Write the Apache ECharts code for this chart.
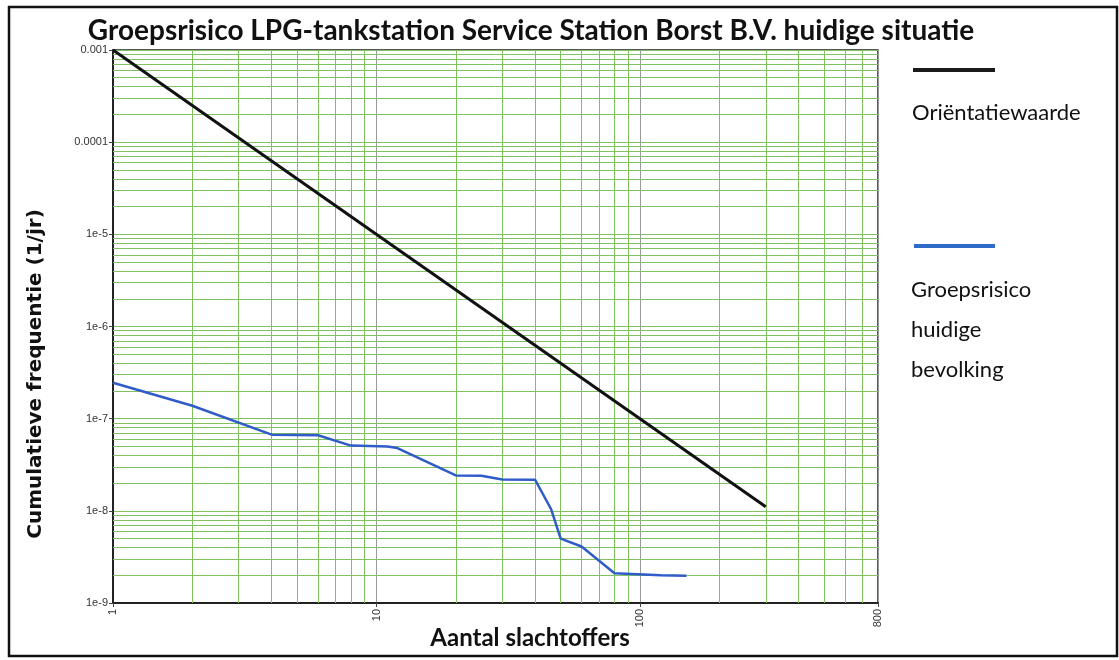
<!DOCTYPE html>
<html>
<head>
<meta charset="utf-8">
<script src="https://cdn.jsdelivr.net/npm/echarts@6/dist/echarts.min.js"></script>
<style>
  html, body { margin: 0; padding: 0; background: #fff; }
  #chart { width: 1119px; height: 660px; }
</style>
</head>
<body>
<div id="chart"></div>
<script>
// aantal slachtoffers (N) en cumulatieve frequentie (1/jr)
var orientatieN = [1, 300];
var orientatieF = [1e-3, 1.11e-8];

var groepsN = [1, 2, 4, 6, 8, 11, 12, 20, 25, 30, 40, 46, 50, 60, 80, 120, 150];
var groepsF = [2.45e-7, 1.38e-7, 6.7e-8, 6.6e-8, 5.1e-8, 5.0e-8, 4.8e-8, 2.42e-8, 2.4e-8,
               2.19e-8, 2.17e-8, 1.04e-8, 5.0e-9, 4.1e-9, 2.1e-9, 2.0e-9, 1.98e-9];

var xMin = 1, xMax = 800;
var yMin = 1e-9, yMax = 1e-3;

// tussenliggende rasterlijnen (2..9 per decade)
var xGrid = [];
[1, 10, 100].forEach(function (d) {
    for (var k = 2; k <= 9; k++) if (d * k < xMax) xGrid.push(d * k);
});
var yGrid = [];
[1e-9, 1e-8, 1e-7, 1e-6, 1e-5, 1e-4].forEach(function (d) {
    for (var k = 2; k <= 9; k++) yGrid.push(d * k);
});

var green = '#7fc25f';

function pairs(xs, ys) {
    return xs.map(function (x, i) { return [x, ys[i]]; });
}

function gridSeries(lines) {
    return {
        type: 'line', data: [], z: 1, silent: true, color: green,
        markLine: {
            silent: true, symbol: 'none', animation: false,
            label: { show: false },
            lineStyle: { color: green, width: 1, type: 'solid', opacity: 1 },
            emphasis: { disabled: true },
            data: lines
        }
    };
}

var myChart = echarts.init(document.getElementById('chart'));
var option = {
    backgroundColor: '#fff',
    animation: false,
    grid: {
        left: 113, top: 50, right: 1119 - 878, bottom: 660 - 603,
        show: true, borderColor: '#222', borderWidth: 1.5
    },
    xAxis: {
        type: 'log', logBase: 10, min: xMin, max: xMax,
        axisLine: { lineStyle: { color: '#222', width: 2 } },
        axisTick: { show: true, length: 4, lineStyle: { color: '#444' } },
        axisLabel: {
            rotate: 90, fontFamily: 'Liberation Sans', fontSize: 11, color: '#333', margin: 6,
            formatter: function (v) { return String(Math.round(v)); }
        },
        splitLine: { show: true, lineStyle: { color: '#9a9a9a', width: 1 } }
    },
    yAxis: {
        type: 'log', logBase: 10, min: yMin, max: yMax,
        axisLine: { lineStyle: { color: '#222', width: 2 } },
        axisTick: { show: true, length: 4, lineStyle: { color: '#444' } },
        axisLabel: {
            fontFamily: 'Liberation Sans', fontSize: 11, color: '#333', margin: 5,
            formatter: function (v) {
                var e = Math.round(Math.log10(v));
                if (e === -3) return '0.001';
                if (e === -4) return '0.0001';
                return '1e' + e;
            }
        },
        splitLine: { show: true, lineStyle: { color: green, width: 1 } }
    },
    series: [
        gridSeries(xGrid.map(function (v) {
            return [{ coord: [v, yMin], lineStyle: { color: green } }, { coord: [v, yMax] }];
        })),
        gridSeries(yGrid.map(function (v) {
            return [{ coord: [xMin, v], lineStyle: { color: green } }, { coord: [xMax, v] }];
        })),
        {
            name: 'Oriëntatiewaarde', type: 'line', z: 5,
            data: pairs(orientatieN, orientatieF),
            showSymbol: false, symbol: 'none',
            lineStyle: { color: '#111', width: 3 }
        },
        {
            name: 'Groepsrisico huidige bevolking', type: 'line', z: 6,
            data: pairs(groepsN, groepsF),
            showSymbol: false, symbol: 'none',
            lineStyle: { color: '#2f5cc8', width: 2.5 }
        }
    ],
    graphic: [
        {
            type: 'rect', shape: { x: 9, y: 7, width: 1108, height: 649 },
            style: { fill: 'none', stroke: '#111', lineWidth: 2.5 }, z: 100
        },
        {
            type: 'text', x: 531, y: 31,
            style: {
                text: 'Groepsrisico LPG-tankstation Service Station Borst B.V. huidige situatie',
                font: 'bold 28px Lato', fill: '#111', align: 'center', verticalAlign: 'middle'
            }
        },
        {
            type: 'text', x: 530, y: 638,
            style: {
                text: 'Aantal slachtoffers', font: 'bold 24px Lato', fill: '#111',
                align: 'center', verticalAlign: 'middle'
            }
        },
        {
            type: 'text', x: 36, y: 374, rotation: Math.PI / 2,
            style: {
                text: 'Cumulatieve frequentie (1/jr)', font: 'bold 20px "DejaVu Sans"', fill: '#111',
                align: 'center', verticalAlign: 'middle'
            }
        },
        {
            type: 'line', shape: { x1: 913, y1: 70, x2: 995, y2: 70 },
            style: { stroke: '#1a1a1a', lineWidth: 4 }
        },
        {
            type: 'text', x: 912, y: 113,
            style: { text: 'Oriëntatiewaarde', font: '22px Lato', fill: '#111', verticalAlign: 'middle' }
        },
        {
            type: 'line', shape: { x1: 914, y1: 246, x2: 995, y2: 246 },
            style: { stroke: '#2e6ac8', lineWidth: 4 }
        },
        {
            type: 'text', x: 911, y: 290,
            style: { text: 'Groepsrisico', font: '22px Lato', fill: '#111', verticalAlign: 'middle' }
        },
        {
            type: 'text', x: 911, y: 330,
            style: { text: 'huidige', font: '22px Lato', fill: '#111', verticalAlign: 'middle' }
        },
        {
            type: 'text', x: 911, y: 370,
            style: { text: 'bevolking', font: '22px Lato', fill: '#111', verticalAlign: 'middle' }
        }
    ]
};
myChart.setOption(option);
</script>
</body>
</html>
